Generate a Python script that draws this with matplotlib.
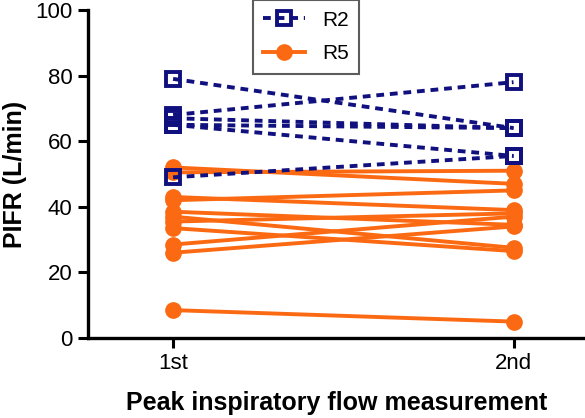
import matplotlib
matplotlib.use("Agg")
import matplotlib.pyplot as plt

# Paired PIFR readings (L/min), 1st vs 2nd measurement
r2_first = [79, 68, 67, 65, 65, 49]
r2_second = [64, 78, 64, 64, 55.5, 55.5]

r5_first = [52, 50.5, 43, 42, 38.5, 37, 35.5, 33.5, 28.5, 26, 8.5]
r5_second = [47, 51, 39, 45, 34.5, 27.5, 38, 26.5, 37, 34, 5]

x_labels = ["1st", "2nd"]
y_ticks = [0, 20, 40, 60, 80, 100]

navy = "#10107f"
orange = "#fb6a12"

plt.rcParams["font.family"] = ["Liberation Sans", "DejaVu Sans"]

fig = plt.figure(figsize=(5.85, 4.18), dpi=100)
ax = fig.add_axes([88 / 585, 80 / 418, 497 / 585, 328 / 418])

xs = [1, 2]
for i in range(len(r5_first)):
    ax.plot(xs, [r5_first[i], r5_second[i]], color=orange, lw=2.8,
            marker="o", ms=11, mfc=orange, mec=orange,
            label="R5" if i == 0 else None, zorder=2)
for i in range(len(r2_first)):
    ax.plot(xs, [r2_first[i], r2_second[i]], color=navy, lw=2.8,
            ls=(0, (2.0, 1.5)), marker="s", ms=10, mfc="none", mec=navy,
            mew=2.8, label="R2" if i == 0 else None, zorder=3)

ax.set_xlim(0.75, 2.21)
ax.set_ylim(0, 100)
ax.set_yticks(y_ticks)
ax.set_xticks(xs)
ax.set_xticklabels(x_labels)

for s in ["top", "right"]:
    ax.spines[s].set_visible(False)
for s in ["left", "bottom"]:
    ax.spines[s].set_linewidth(2.4)
ax.tick_params(width=2.2, length=7, labelsize=16, pad=4)

ax.set_ylabel("PIFR (L/min)", fontsize=18, fontweight="bold", labelpad=6)
ax.set_xlabel("Peak inspiratory flow measurement", fontsize=18,
              fontweight="bold", labelpad=12)

handles, labels = ax.get_legend_handles_labels()
order = [labels.index("R2"), labels.index("R5")]
leg = ax.legend([handles[k] for k in order], [labels[k] for k in order],
                loc="upper left", bbox_to_anchor=(165 / 497, 1.03),
                borderaxespad=0, fontsize=15, frameon=True, fancybox=False,
                handlelength=2.0, borderpad=0.5, labelspacing=0.7)
leg.get_frame().set_edgecolor("#333333")
leg.get_frame().set_linewidth(1.5)

fig.savefig("out.png", dpi=100)
